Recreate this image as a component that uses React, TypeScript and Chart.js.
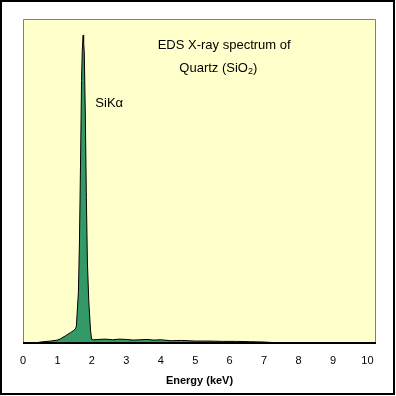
import React, { useEffect, useRef } from "react";
import { Chart, registerables } from "chart.js";

Chart.register(...registerables);

// Spectrum data (energy in keV, relative counts)
const energies = [0, 0.36, 0.51, 0.8, 1.0, 1.09, 1.23, 1.3, 1.38, 1.46, 1.52, 1.55, 1.61, 1.64, 1.67, 1.7, 1.72, 1.745, 1.76, 1.78, 1.81, 1.84, 1.87, 1.91, 1.96, 1.99, 2.05, 2.2, 2.4, 2.6, 2.8, 3.0, 3.2, 3.4, 3.6, 3.8, 4.0, 4.3, 4.6, 5.0, 5.4, 5.8, 6.2, 6.6, 7.0, 7.3, 7.6, 8.0, 9.0, 10.25];
const counts = [0, 0, 0.3, 0.6, 0.9, 1.3, 2.2, 2.7, 3.2, 3.8, 4.3, 5.2, 16, 31.8, 55, 81, 90, 95, 93, 89.5, 70, 45, 25, 13, 4, 1.2, 1.0, 1.1, 1.2, 1.0, 1.2, 1.1, 0.9, 1.0, 1.1, 0.9, 1.0, 0.7, 0.8, 0.6, 0.6, 0.5, 0.5, 0.4, 0.3, 0.1, 0, 0, 0, 0];

const xMin = 0;
const xMax = 10.25;
const yMax = 100;
const xTickStep = 1;

const titleLine1 = "EDS X-ray spectrum of";
const titleLine2a = "Quartz (SiO";
const titleLine2sub = "2";
const titleLine2b = ")";
const peakLabel = "SiKα";
const axisTitle = "Energy (keV)";

// annotation anchor positions in data units
const title1Pos = { x: 5.84, y: 91.7 };
const title2Pos = { x: 4.54, y: 84.9 };
const peakLabelPos = { x: 2.1, y: 74 };

const FONT = "Arial, 'Liberation Sans', sans-serif";

const decorPlugin = {
  id: "decor",
  beforeDraw(chart: any) {
    const { ctx, chartArea: a, width, height } = chart;
    ctx.save();
    ctx.fillStyle = "#ffffff";
    ctx.fillRect(0, 0, width, height);
    ctx.strokeStyle = "#000000";
    ctx.lineWidth = 2;
    ctx.strokeRect(1, 1, width - 3, height - 3);
    ctx.fillStyle = "#ffffcc";
    ctx.fillRect(a.left, a.top, a.right - a.left, a.bottom - a.top);
    ctx.restore();
  },
  afterDatasetsDraw(chart: any) {
    const { ctx, chartArea: a, scales } = chart;
    const xs = scales.x;
    const ys = scales.y;
    ctx.save();
    ctx.strokeStyle = "#808080";
    ctx.lineWidth = 1;
    ctx.beginPath();
    ctx.moveTo(a.left + 0.5, a.bottom);
    ctx.lineTo(a.left + 0.5, a.top + 0.5);
    ctx.lineTo(a.right - 0.5, a.top + 0.5);
    ctx.lineTo(a.right - 0.5, a.bottom);
    ctx.stroke();
    ctx.strokeStyle = "#000000";
    ctx.lineWidth = 2;
    ctx.beginPath();
    ctx.moveTo(a.left, a.bottom);
    ctx.lineTo(a.right, a.bottom);
    ctx.stroke();

    ctx.fillStyle = "#000000";
    ctx.textBaseline = "middle";
    ctx.font = "13px " + FONT;
    ctx.textAlign = "center";
    ctx.fillText(titleLine1, xs.getPixelForValue(title1Pos.x), ys.getPixelForValue(title1Pos.y));

    ctx.textAlign = "left";
    let tx = xs.getPixelForValue(title2Pos.x);
    const ty = ys.getPixelForValue(title2Pos.y);
    ctx.fillText(titleLine2a, tx, ty);
    tx += ctx.measureText(titleLine2a).width;
    ctx.font = "9px " + FONT;
    ctx.fillText(titleLine2sub, tx, ty + 4);
    tx += ctx.measureText(titleLine2sub).width;
    ctx.font = "13px " + FONT;
    ctx.fillText(titleLine2b, tx, ty);

    ctx.fillText(peakLabel, xs.getPixelForValue(peakLabelPos.x), ys.getPixelForValue(peakLabelPos.y));
    ctx.restore();
  },
};

export default function App() {
  const ref = useRef<HTMLCanvasElement>(null);
  useEffect(() => {
    if (!ref.current) return;
    const data = energies.map((e, i) => ({ x: e, y: counts[i] }));
    const chart = new Chart(ref.current, {
      type: "line",
      data: {
        datasets: [
          {
            data,
            borderColor: "#000000",
            borderWidth: 1,
            backgroundColor: "#339966",
            fill: "origin",
            pointRadius: 0,
            tension: 0,
          },
        ],
      },
      options: {
        responsive: false,
        animation: false,
        layout: { padding: { left: 23, right: 20, top: 19, bottom: 4 } },
        plugins: { legend: { display: false }, tooltip: { enabled: false } },
        scales: {
          x: {
            type: "linear",
            min: xMin,
            max: xMax,
            grid: { display: false, drawTicks: false },
            border: { display: false },
            ticks: {
              stepSize: xTickStep,
              includeBounds: false,
              color: "#000000",
              font: { family: FONT, size: 11 },
              padding: 11,
              maxRotation: 0,
            },
            title: {
              display: true,
              text: axisTitle,
              color: "#000000",
              font: { family: FONT, size: 11, weight: "bold" },
            },
            afterFit: (s: any) => {
              s.height = 49;
            },
          },
          y: {
            display: false,
            min: 0,
            max: yMax,
          },
        },
      },
      plugins: [decorPlugin],
    });
    return () => chart.destroy();
  }, []);
  return (
    <div style={{ position: "fixed", left: 0, top: 0, width: 396, height: 396 }}>
      <canvas ref={ref} width={396} height={396} style={{ display: "block", width: 396, height: 396 }} />
    </div>
  );
}
